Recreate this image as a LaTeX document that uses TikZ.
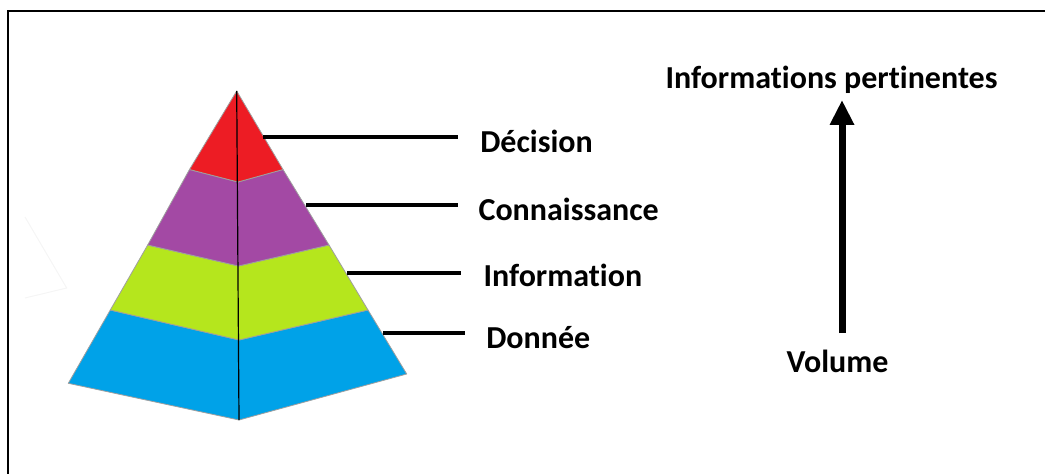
\documentclass[tikz,border=0pt]{standalone}
\usepackage{fontspec}
\setmainfont{Carlito}[RawFeature={-liga;-clig;-dlig;-calt}]
\usetikzlibrary{arrows.meta,calc}
\definecolor{pred}{HTML}{ED1C24}
\definecolor{ppurple}{HTML}{A349A4}
\definecolor{pgreen}{HTML}{B5E61D}
\definecolor{pblue}{HTML}{00A2E8}
\newcommand{\nolig}{\kern0pt }
\begin{document}
\begin{tikzpicture}[x=0.75pt,y=-0.75pt,
  layer/.style={draw=gray!75, line width=0.6pt, line join=round},
  lbl/.style={font=\fontsize{24}{28}\selectfont\bfseries, inner sep=0pt},
  leader/.style={line width=3pt},
  bigarrow/.style={line width=5.25pt, -{Triangle[length=18.75pt,width=17.25pt]}},
  frame/.style={line width=2.2pt}]
\useasboundingbox (0,0) rectangle (1045,474);
% frame
\draw[frame] (8,474) -- (8,11) -- (1045,11);
% faint ghost outline
\draw[gray!8, line width=0.75pt] (25,217) -- (66.7,288) -- (25,298);
% pyramid points
\coordinate (A) at (236.7,91);
\coordinate (L1) at (189.5,169.5);
\coordinate (C1) at (238,182);
\coordinate (R1) at (283,169.5);
\coordinate (L2) at (147.7,245);
\coordinate (C2) at (238.5,266);
\coordinate (R2) at (329,245);
\coordinate (L3) at (110.3,310);
\coordinate (C3) at (239,340);
\coordinate (R3) at (368,310);
\coordinate (BL) at (68.3,383.3);
\coordinate (BC) at (239,420);
\coordinate (BR) at (406.7,374);
% layers
\filldraw[layer, fill=pblue] (L3) -- (C3) -- (R3) -- (BR) -- (BC) -- (BL) -- cycle;
\filldraw[layer, fill=pgreen] (L2) -- (C2) -- (R2) -- (R3) -- (C3) -- (L3) -- cycle;
\filldraw[layer, fill=ppurple] (L1) -- (C1) -- (R1) -- (R2) -- (C2) -- (L2) -- cycle;
\filldraw[layer, fill=pred] (A) -- (R1) -- (C1) -- (L1) -- cycle;
\draw[line width=0.9pt] (A) -- (BC);
% labels
\node[lbl, anchor=base west] (ldec) at (480,153) {Décision};
\node[lbl, anchor=base west] (lcon) at (478.3,220) {Connaissance};
\node[lbl, anchor=base west] (linf) at (483.3,286.7) {Informat\nolig ion};
\node[lbl, anchor=base west] (ldon) at (486,348.3) {Donnée};
% leader lines
\coordinate (e1) at (263,137);
\coordinate (e2) at (306,205);
\coordinate (e3) at (347,273);
\coordinate (e4) at (383,333);
\draw[leader, shorten >=16.5pt] (e1) -- (e1 -| ldec.west);
\draw[leader, shorten >=15.2pt] (e2) -- (e2 -| lcon.west);
\draw[leader, shorten >=16.7pt] (e3) -- (e3 -| linf.west);
\draw[leader, shorten >=15.75pt] (e4) -- (e4 -| ldon.west);
% right side
\node[lbl, anchor=base] (ip) at (831.5,89) {Informat\nolig ions pert\nolig inentes};
\node[lbl, anchor=base] (vol) at (837.5,372) {Volume};
\draw[bigarrow] ($(vol.base)+(4.5,-39)$) -- ($(ip.base)+(10.5,11)$);
\end{tikzpicture}
\end{document}
